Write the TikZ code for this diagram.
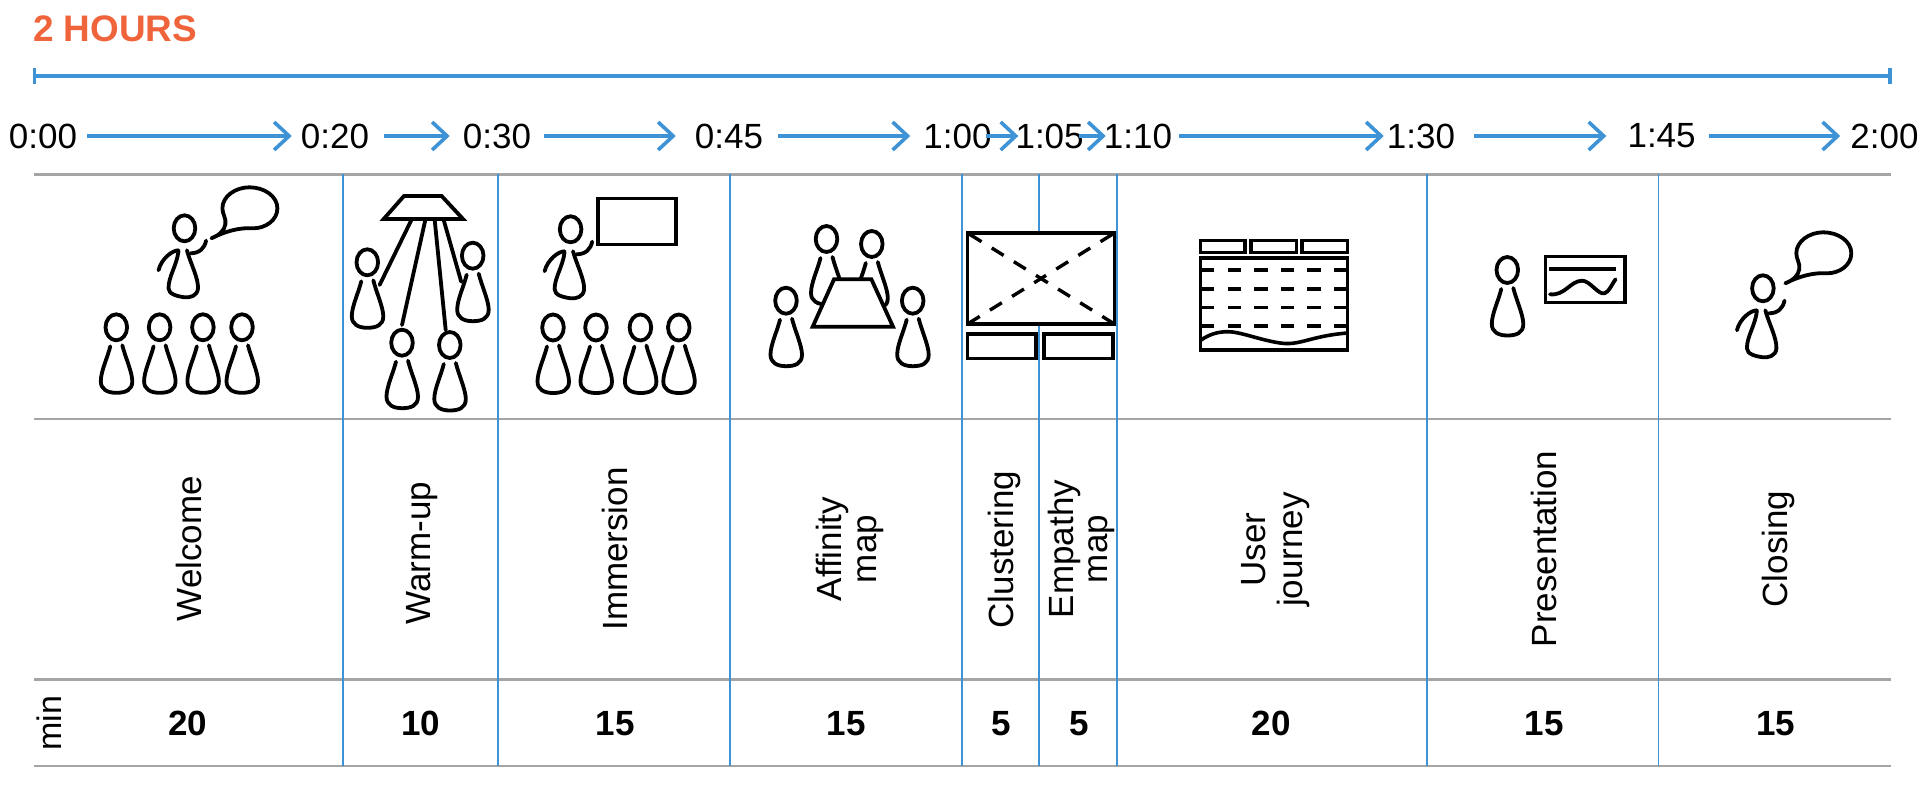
\documentclass[tikz,border=0pt]{standalone}
\usepackage{fontspec}
\setmainfont{Liberation Sans}
\usetikzlibrary{arrows.meta}
\definecolor{lineblue}{RGB}{62,146,214}
\definecolor{rulegray}{RGB}{165,165,165}
\definecolor{titleorange}{RGB}{240,100,60}
\tikzset{
  icon/.style={line width=3.8pt,draw=black,line cap=round,line join=round},
  iconbox/.style={line width=3.8pt,draw=black,line join=miter,fill=white},
  rowrule/.style={draw=rulegray,line width=2.2pt},
  colrule/.style={draw=lineblue,line width=2.2pt},
  tlabel/.style={inner sep=0pt,font=\fontsize{35}{35}\selectfont},
  sidelabel/.style={inner sep=0pt,rotate=90,align=center,font=\fontsize{35}{37}\selectfont},
  minlabel/.style={inner sep=0pt,font=\bfseries\fontsize{35}{35}\selectfont},
  tarrow/.style={draw=lineblue,line width=3.3pt,-{Straight Barb[length=15pt,width=28pt,line width=3.6pt]}},
  person/.pic={
    \draw[icon] (0,0) ellipse [x radius=10.8,y radius=13];
    \draw[icon] (-6,19) .. controls (-9,31) and (-15.5,44) .. (-15.5,54)
       .. controls (-15.5,62) and (-9,65.5) .. (0,65.5)
       .. controls (9,65.5) and (16,63) .. (16,54)
       .. controls (16,45) and (9,30) .. (6,18);
  },
  speaker/.pic={
    \draw[icon] (0,0) ellipse [x radius=10.8,y radius=13];
    \draw[icon] (2.4,22) .. controls (6,35) and (14,50) .. (13.5,60)
       .. controls (13,68) and (5,69.5) .. (0,69)
       .. controls (-7,68) and (-16,66) .. (-16,60)
       .. controls (-16,48) and (-8,38) .. (-6,23);
    \draw[icon] (-6,22) .. controls (-12,22) and (-23,30) .. (-26,42);
    \draw[icon] (21.6,12.3) .. controls (20,20) and (15,25) .. (6,25);
  },
  bubble/.pic={
    \draw[icon] (0,0) .. controls (8,-3) and (13,-8) .. (14,-14)
       .. controls (15,-20) and (11,-24) .. (11,-30)
       .. controls (11,-42) and (24,-51) .. (38,-51)
       .. controls (53,-51) and (66,-42) .. (66,-30)
       .. controls (66,-18) and (54,-10) .. (42,-10)
       .. controls (28,-11) and (14,-7) .. (0,0);
  }
}
\begin{document}
\begin{tikzpicture}[x=1pt,y=-1pt]
\useasboundingbox (0,0) rectangle (1920,786);
\fill[white] (0,0) rectangle (1920,786);

\node[anchor=west,inner sep=0pt,text=titleorange,font=\bfseries\fontsize{36.9}{36.9}\selectfont] (title) at (33,29) {2 HOURS};

% overall span
\coordinate (spanL) at (34.5,75.7);
\coordinate (spanR) at (1890,75.7);
\draw[draw=lineblue,line width=4pt] (spanL) -- (spanR);
\draw[draw=lineblue,line width=3.3pt] ([yshift=8pt]spanL) -- ([yshift=-8pt]spanL);
\draw[draw=lineblue,line width=3.3pt] ([yshift=8pt]spanR) -- ([yshift=-8pt]spanR);

% time labels
\node[tlabel] (t0)  at (43,136) {0:00};
\node[tlabel] (t20) at (335,136) {0:20};
\node[tlabel] (t30) at (497,136) {0:30};
\node[tlabel] (t45) at (729,136) {0:45};
\node[tlabel] (t60) at (957.5,136) {1:00};
\node[tlabel] (t65) at (1049.6,136) {1:05};
\node[tlabel] (t70) at (1138,136) {1:10};
\node[tlabel] (t90) at (1421,136) {1:30};
\node[tlabel] (t105) at (1661.6,136) {1:45};
\node[tlabel] (t120) at (1884.5,136) {2:00};

\draw[tarrow,shorten <=10pt,shorten >=9pt] (t0.east) -- (t20.west);
\draw[tarrow,shorten <=15pt,shorten >=13pt] (t20.east) -- (t30.west);
\draw[tarrow,shorten <=13pt,shorten >=19pt] (t30.east) -- (t45.west);
\draw[tarrow,shorten <=15pt,shorten >=13pt] (t45.east) -- (t60.west);
\draw[tarrow,shorten <=-6pt,shorten >=-3pt] (t60.east) -- (t65.west);
\draw[tarrow,shorten <=-5pt,shorten >=-2pt] (t65.east) -- (t70.west);
\draw[tarrow,shorten <=7pt,shorten >=3pt] (t70.east) -- (t90.west);
\draw[tarrow,shorten <=19pt,shorten >=21pt] (t90.east) -- (t105.west);
\draw[tarrow,shorten <=13pt,shorten >=10pt] (t105.east) -- (t120.west);

% table rules
\draw[rowrule] (33.5,174.5) -- (1891,174.5);
\draw[rowrule] (33.5,419) -- (1891,419);
\draw[rowrule] (33.5,679.5) -- (1891,679.5);
\draw[rowrule] (33.5,766) -- (1891,766);
\foreach \xx/\ww in {343/2.4,498/2,730/2,961.6/2,1039/1.6,1116.7/2,1426.5/2,1658.4/1.8}
  \draw[colrule,line width=\ww pt] (\xx,174) -- (\xx,766);

% Welcome icon
\pic at (184.5,228.3) {speaker};
\pic at (211.4,238.3) {bubble};
\foreach \xx in {116.3,159.6,202.9,242} \pic at (\xx,327.3) {person};

% Warm-up icon
\draw[icon,line join=miter] (404,196) -- (441.6,196) -- (463,219) -- (383.7,219) -- cycle;
\draw[icon] (411.4,220) -- (379.6,285);
\draw[icon] (425.3,220) -- (402,325);
\draw[icon] (434.7,220) -- (445.7,330);
\draw[icon] (443.7,220) -- (461.2,281.7);
\pic at (367.3,262.3) {person};
\pic at (472.7,255.7) {person};
\pic at (402,342.7) {person};
\pic at (449.8,345) {person};

% Immersion icon
\pic at (570.6,229.3) {speaker};
\draw[iconbox,fill=none] (598,198.5) rectangle (676,244.5);
\foreach \xx in {553,596,640.4,678.8} \pic at (\xx,327.5) {person};

% Affinity map icon
\pic at (826.5,239) {person};
\pic at (871.8,244) {person};
\pic at (786,300.7) {person};
\pic at (912.7,300.7) {person};
\draw[iconbox] (834,279.3) -- (871.4,279.3) -- (893,326.7) -- (812.7,326.7) -- cycle;

% Clustering and empathy icon
\draw[iconbox] (967.5,233) rectangle (1114.5,324);
\draw[line width=3.4pt,dash pattern=on 14pt off 12pt,dash phase=23.5pt] (967.5,233) -- (1114.5,324);
\draw[line width=3.4pt,dash pattern=on 14pt off 12pt,dash phase=23.5pt] (1114.5,233) -- (967.5,324);
\draw[iconbox,fill=none,line width=3.4pt] (967.5,334) rectangle (1036,358.5);
\draw[iconbox,fill=none,line width=3.4pt] (1044,334) rectangle (1113,358.5);

% User journey icon
\draw[iconbox,line width=3.4pt] (1200.5,240.5) rectangle (1245,252.5);
\draw[iconbox,line width=3.4pt] (1251,240.5) rectangle (1296.5,252.5);
\draw[iconbox,line width=3.4pt] (1302,240.5) rectangle (1347.5,252.5);
\draw[iconbox,line width=3.4pt] (1200.5,258) rectangle (1347.5,350);
\foreach \yy in {270,289,307.3,326}
  \draw[line width=3.4pt,dash pattern=on 13.3pt off 13.3pt] (1201,\yy) -- (1347.5,\yy);
\draw[line width=3.6pt] (1201,340) .. controls (1210,334) and (1218,331.7) .. (1228,331.7)
   .. controls (1240,331.7) and (1260,340) .. (1280,343)
   .. controls (1300,346) and (1310,336) .. (1347.5,333);

% Presentation icon
\pic at (1507.3,270) {person};
\draw[iconbox,fill=none] (1545.5,256.5) rectangle (1625,302.5);
\draw[line width=3.6pt] (1549.4,269.3) -- (1615.5,269.3);
\draw[icon] (1550,294.3) .. controls (1565,296) and (1570,281) .. (1582,280.7)
   .. controls (1590,280.5) and (1598,295) .. (1604.5,293.3)
   .. controls (1609,292) and (1612,284) .. (1615.5,279.3);

% Closing icon
\pic at (1762.9,288.3) {speaker};
\pic at (1785.3,283.3) {bubble};

% activity names
\node[sidelabel] (welcome) at (188.6,548.6) {Welcome};
\node[sidelabel] (warmup) at (422,553) {Warm-up};
\node[sidelabel] (immersion) at (615,549) {Immersion};
\node[sidelabel,font=\fontsize{35}{35}\selectfont] (affinity) at (849.5,549) {Affinity\\map};
\node[sidelabel] (clustering) at (1004,549.5) {Clustering};
\node[sidelabel,font=\fontsize{35}{34}\selectfont] (empathy) at (1081.7,549) {Empathy\\map};
\node[sidelabel] (journey) at (1276,549.5) {User\\journey};
\node[sidelabel] (presentation) at (1544,549) {Presentation};
\node[sidelabel] (closing) at (1778,549) {Closing};

% minutes
\node[sidelabel,font=\fontsize{34}{34}\selectfont] (minword) at (49,723) {min};
\node[minlabel] (m1) at (188,723.5) {20};
\node[minlabel] (m2) at (421,723.5) {10};
\node[minlabel] (m3) at (615,723.5) {15};
\node[minlabel] (m4) at (846,723.5) {15};
\node[minlabel] (m5) at (1001.6,723.5) {5};
\node[minlabel] (m6) at (1078.8,723.5) {5};
\node[minlabel] (m7) at (1271,723.5) {20};
\node[minlabel] (m8) at (1544,723.5) {15};
\node[minlabel] (m9) at (1775.6,723.5) {15};
\end{tikzpicture}
\end{document}
